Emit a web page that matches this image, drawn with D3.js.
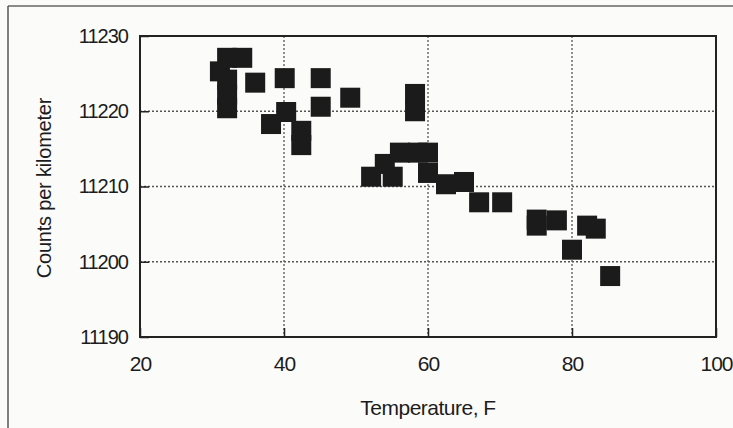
<!DOCTYPE html>
<html>
<head>
<meta charset="utf-8">
<script src="https://d3js.org/d3.v7.min.js"></script>
<style>
  html, body { margin: 0; padding: 0; background: #fbfbfa; }
  svg { display: block; }
  text { font-family: "Liberation Sans", Arial, sans-serif; fill: #1c1c1c; }
</style>
</head>
<body>
<svg id="chart" width="733" height="428"></svg>
<script>
// Data
const temperatures = [32.1, 34.2, 31.1, 32.1, 32.1, 32.1, 36.0, 40.1, 40.3, 38.2, 42.4, 42.4,
  45.1, 45.1, 49.2, 58.2, 58.2, 52.1, 54.0, 56.1, 55.1, 58.6, 60.0, 60.0, 62.5, 65.0,
  67.1, 70.3, 75.1, 75.1, 77.9, 82.1, 83.3, 80.0, 85.3];
const counts = [11227.1, 11227.1, 11225.3, 11224.2, 11222.2, 11220.4, 11223.8, 11224.4, 11219.9,
  11218.3, 11217.4, 11215.5, 11224.4, 11220.6, 11221.8, 11222.3, 11220.0, 11211.3, 11213.0,
  11214.5, 11211.3, 11214.5, 11214.5, 11211.8, 11210.3, 11210.6, 11207.9, 11207.9, 11204.8,
  11205.6, 11205.5, 11204.8, 11204.4, 11201.6, 11198.1];
const xTicks = [20, 40, 60, 80, 100];
const yTicks = [11190, 11200, 11210, 11220, 11230];
const xTitle = "Temperature, F";
const yTitle = "Counts per kilometer";

(function () {
const svg = d3.select("#chart");
const pL = 140, pR = 716, pT = 36, pB = 337;

const x = d3.scaleLinear().domain([20, 100]).range([pL, pR]);
const y = d3.scaleLinear().domain([11190, 11230]).range([pB, pT]);

// outer frame (top and left edges visible)
svg.append("line").attr("x1", 8).attr("x2", 733).attr("y1", 6).attr("y2", 6)
  .attr("stroke", "#666").attr("stroke-width", 1.5);
svg.append("line").attr("x1", 8).attr("x2", 8).attr("y1", 6).attr("y2", 428)
  .attr("stroke", "#555").attr("stroke-width", 1.5);

// gridlines
const innerX = xTicks.slice(1, -1);
const innerY = yTicks.slice(1, -1);
svg.append("g").selectAll("line").data(innerX).join("line")
  .attr("x1", d => x(d)).attr("x2", d => x(d)).attr("y1", pT).attr("y2", pB)
  .attr("stroke", "#555").attr("stroke-width", 1.3).attr("stroke-dasharray", "2,2");
svg.append("g").selectAll("line").data(innerY).join("line")
  .attr("x1", pL).attr("x2", pR).attr("y1", d => y(d)).attr("y2", d => y(d))
  .attr("stroke", "#555").attr("stroke-width", 1.3).attr("stroke-dasharray", "2,2");

// axes with inward ticks
const xAxis = d3.axisBottom(x).tickValues(xTicks).tickSize(-9).tickPadding(19).tickFormat(d3.format("d"));
const yAxis = d3.axisLeft(y).tickValues(yTicks).tickSize(-9).tickPadding(12).tickFormat(d3.format("d"));
const gx = svg.append("g").attr("transform", `translate(0,${pB})`).call(xAxis);
const gy = svg.append("g").attr("transform", `translate(${pL},0)`).call(yAxis);
[gx, gy].forEach(g => {
  g.select(".domain").remove();
  g.selectAll(".tick line").attr("stroke", "#222").attr("stroke-width", 1.5);
  g.selectAll(".tick text").attr("fill", "#1c1c1c")
    .attr("font-family", "'Liberation Sans', Arial, sans-serif").attr("letter-spacing", -1);
});
gx.selectAll(".tick text").attr("font-size", 21);
gy.selectAll(".tick text").attr("font-size", 20);

// plot border
svg.append("rect").attr("x", pL).attr("y", pT).attr("width", pR - pL).attr("height", pB - pT)
  .attr("fill", "none").attr("stroke", "#222").attr("stroke-width", 2);

// markers
const s = 20;
svg.append("g").selectAll("rect").data(temperatures.map((t, i) => [t, counts[i]])).join("rect")
  .attr("x", d => x(d[0]) - s / 2).attr("y", d => y(d[1]) - s / 2)
  .attr("width", s).attr("height", s).attr("fill", "#1b1b1b");

// titles
svg.append("text").attr("x", x(60)).attr("y", 415).attr("text-anchor", "middle")
  .attr("font-size", 21).attr("letter-spacing", -0.5).text(xTitle);
svg.append("text").attr("transform", `translate(51,${188}) rotate(-90)`)
  .attr("text-anchor", "middle").attr("font-size", 20).attr("letter-spacing", -0.2).text(yTitle);
})();
</script>
</body>
</html>
